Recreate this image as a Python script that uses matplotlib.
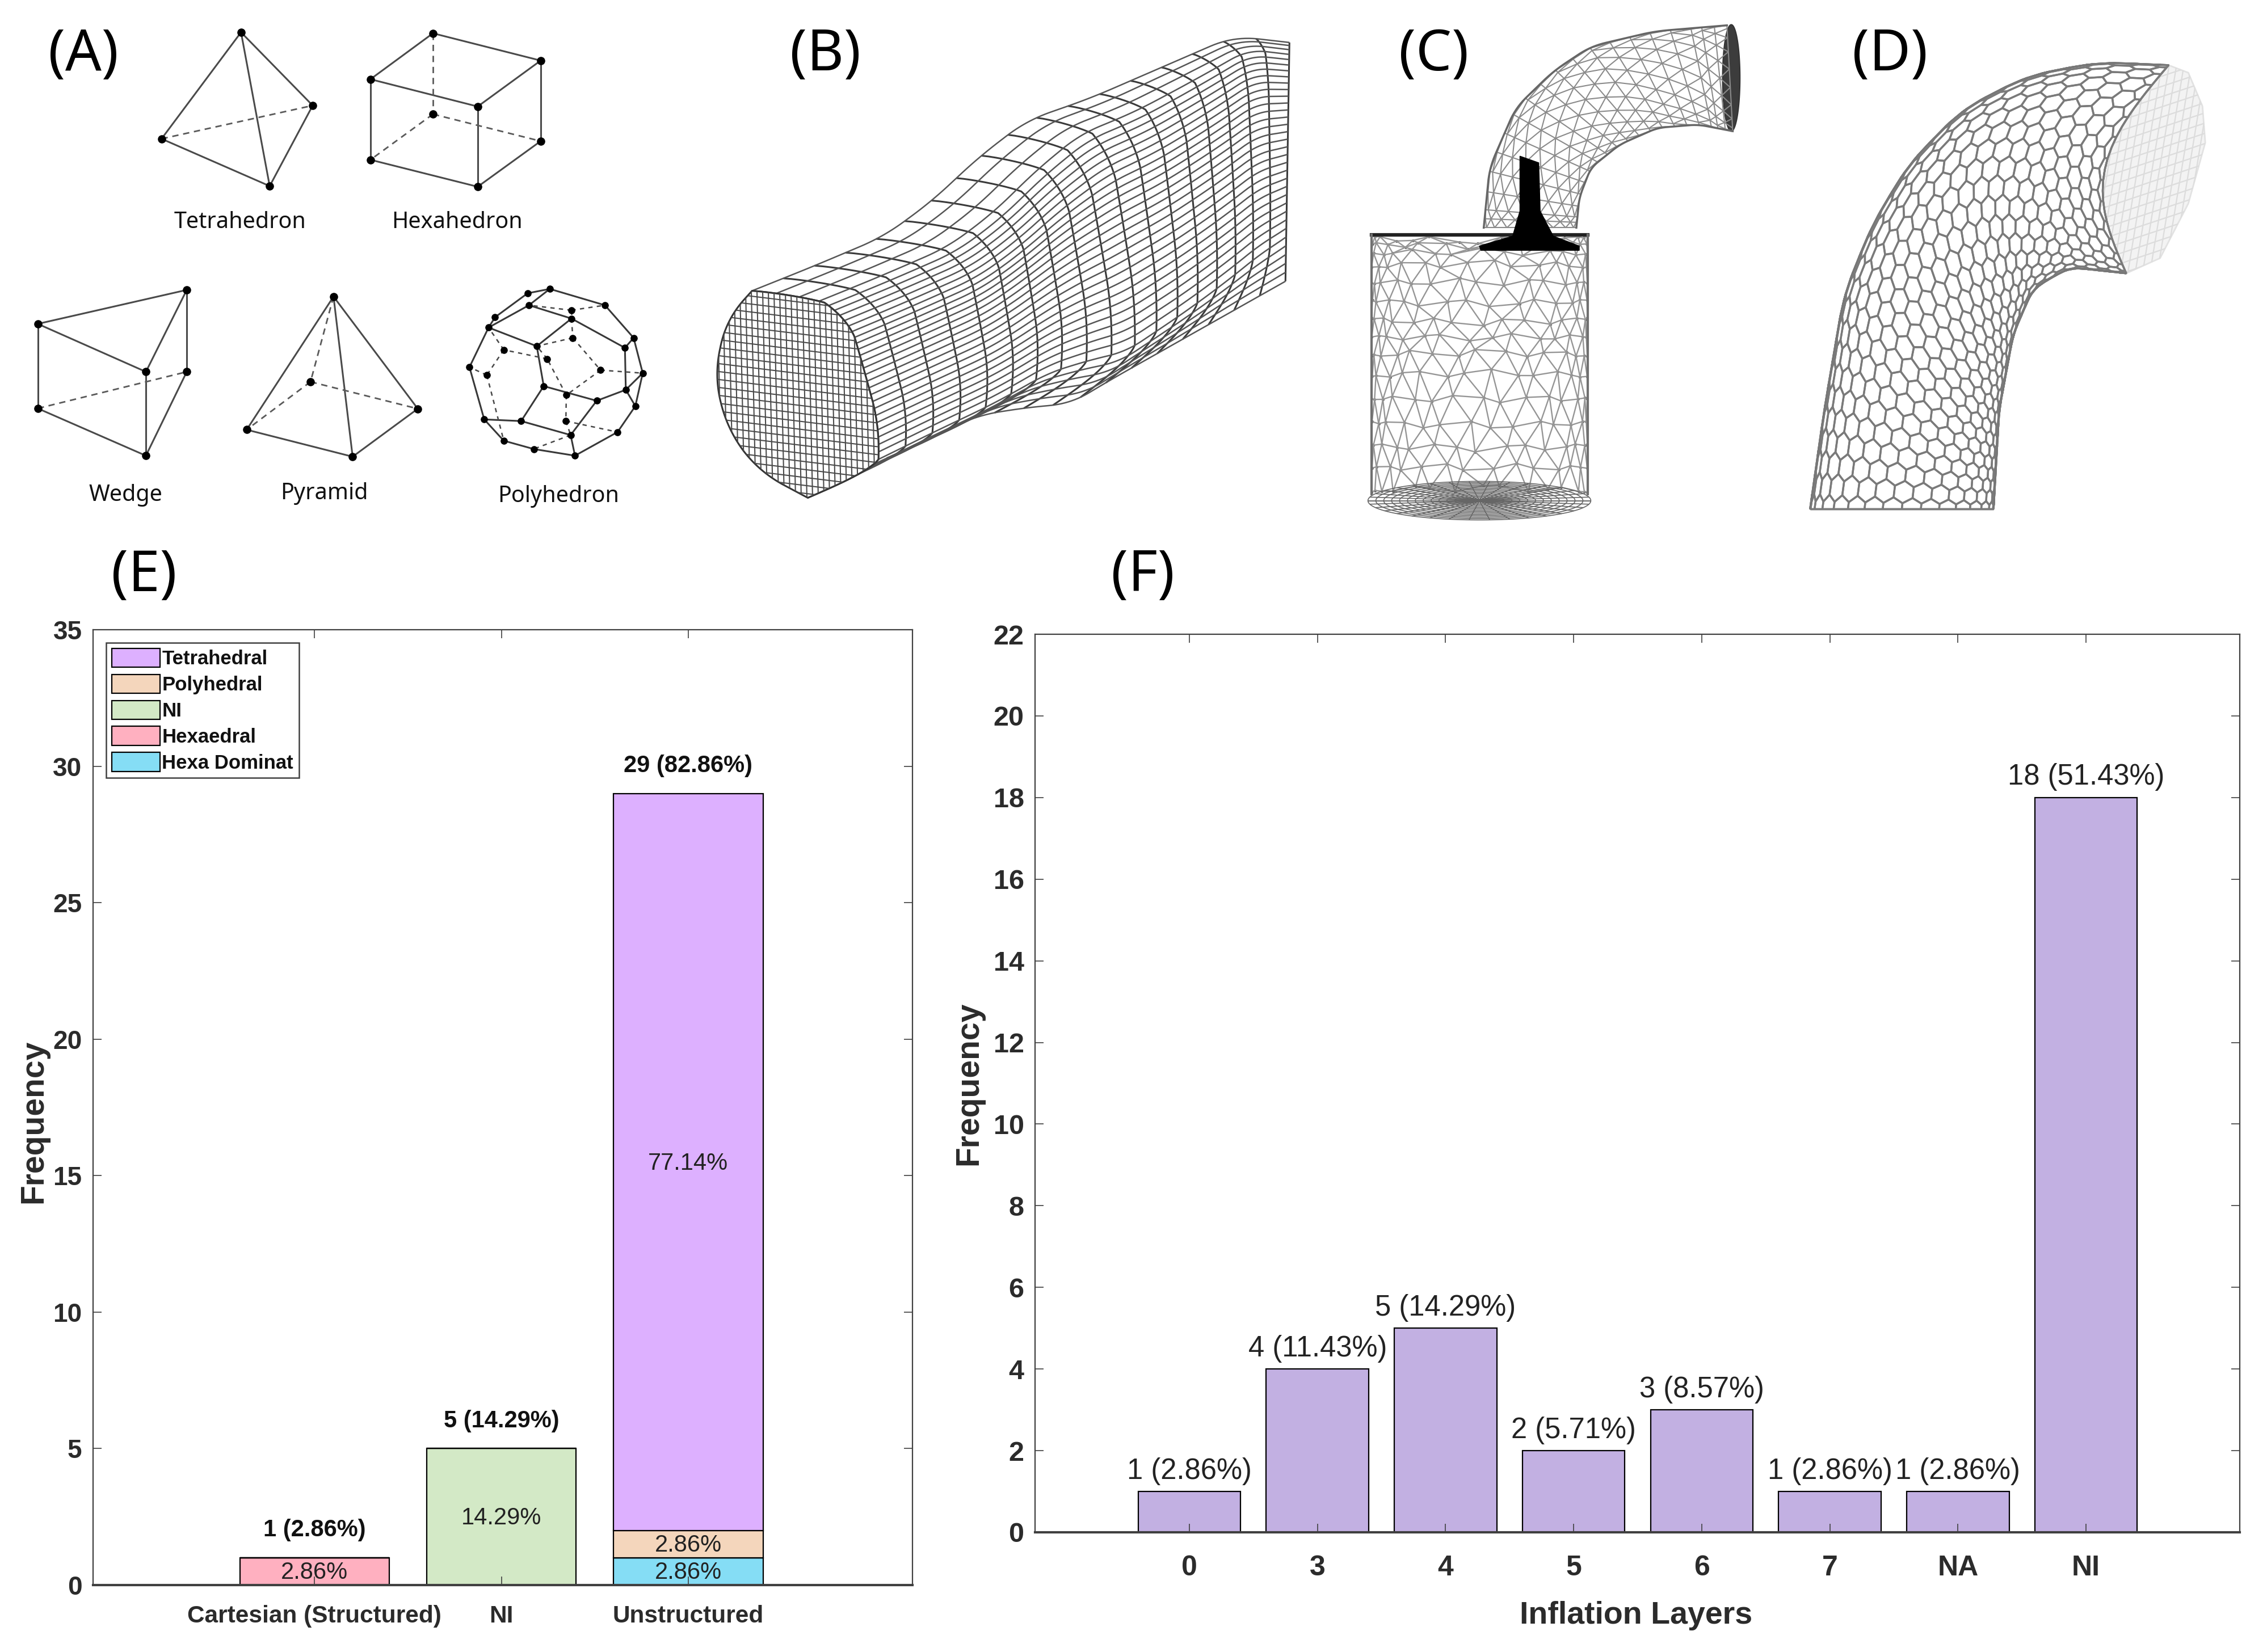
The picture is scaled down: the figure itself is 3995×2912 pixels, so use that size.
import numpy as np
import matplotlib
matplotlib.use('Agg')
import matplotlib.pyplot as plt
from matplotlib.collections import LineCollection
from matplotlib.patches import Polygon

plt.rcParams['font.family'] = ['Liberation Sans', 'DejaVu Sans']

# panel E
mesh_types = ['Cartesian (Structured)', 'NI', 'Unstructured']
hexa_dominant = [0, 0, 1]
hexaedral = [1, 0, 0]
mesh_ni = [0, 5, 0]
polyhedral = [0, 0, 1]
tetrahedral = [0, 0, 27]
mesh_totals = ['1 (2.86%)', '5 (14.29%)', '29 (82.86%)']
mesh_total_values = [1, 5, 29]

# panel F
layer_names = ['0', '3', '4', '5', '6', '7', 'NA', 'NI']
layer_counts = [1, 4, 5, 2, 3, 1, 1, 18]
layer_pct = ['2.86', '11.43', '14.29', '5.71', '8.57', '2.86', '2.86', '51.43']

tet_nodes = {'t': (555, 97), 'r': (720, 317), 'l': (372, 417), 'b': (621, 559)}
tet_solid = ['tl', 'tr', 'tb', 'lb', 'rb']
tet_dash = ['lr']
hex_nodes = {'a': (997, 100), 'b': (1245, 182), 'c': (853, 238), 'd': (1100, 320),
             'e': (997, 343), 'f': (1245, 424), 'g': (853, 480), 'h': (1100, 561)}
hex_solid = ['ab', 'ac', 'cd', 'bd', 'cg', 'dh', 'bf', 'gh', 'fh']
hex_dash = ['ae', 'eg', 'ef']
wedge_nodes = {'a': (87, 973), 'b': (430, 871), 'c': (336, 1117), 'd': (430, 1117),
               'e': (87, 1227), 'f': (336, 1369)}
wedge_solid = ['ab', 'ac', 'bc', 'bd', 'ae', 'cf', 'ef', 'df']
wedge_dash = ['ed']
pyr_nodes = {'t': (768, 891), 'e': (715, 1147), 'r': (962, 1228), 'l': (568, 1291), 'b': (812, 1372)}
pyr_solid = ['tl', 'tr', 'tb', 'lb', 'rb']
pyr_dash = ['te', 'el', 'er']
poly_nodes = [(1266, 868), (1215, 881), (1393, 917), (1218, 917), (1316, 932), (1140, 953),
              (1316, 957), (1125, 984), (1319, 1015), (1459, 1015), (1236, 1040), (1160, 1051),
              (1260, 1078), (1081, 1103), (1383, 1112), (1480, 1121), (1121, 1127), (1252, 1160),
              (1441, 1171), (1304, 1187), (1374, 1204), (1463, 1220), (1115, 1260), (1200, 1265),
              (1303, 1265), (1422, 1298), (1314, 1307), (1160, 1324), (1229, 1349), (1324, 1369),
              (1439, 1045)]
poly_solid = [(0, 1), (1, 5), (5, 7), (0, 2), (2, 9), (9, 15), (15, 21), (21, 25), (25, 29), (29, 28),
              (28, 27), (27, 22), (22, 13), (13, 7), (3, 0), (3, 7), (3, 6), (6, 10), (6, 30), (30, 9),
              (30, 18), (7, 10), (10, 17), (17, 20), (17, 23), (20, 18), (18, 21), (20, 26), (23, 26),
              (23, 22), (26, 29), (18, 15)]
poly_dash = [(4, 2), (4, 3), (4, 6), (6, 8), (8, 10), (8, 14), (14, 15), (14, 19), (19, 24), (24, 26),
             (24, 25), (26, 28), (19, 12), (12, 10), (12, 11), (11, 7), (11, 16), (16, 13), (16, 27)]

# panel B-D outlines
duct_top = [(150, 860), (300, 785), (480, 690), (600, 580), (720, 440), (840, 325), (1000, 255), (1360, 60), (1500, 80)]
duct_bot = [(290, 1510), (430, 1420), (600, 1320), (720, 1250), (850, 1225), (950, 1215), (1050, 1140), (1490, 830)]
duct_cap = [(150, 860), (85, 950), (55, 1130), (90, 1300), (170, 1430), (290, 1510)]
duct_profile_v = [0, 0.1, 0.3, 0.6, 0.85, 1]
duct_profile_b = [0, 0.55, 0.92, 1.0, 0.7, 0]
pipe_outer = [(460, 650), (480, 470), (570, 290), (700, 180), (830, 105), (1050, 60), (1300, 42)]
pipe_inner = [(780, 650), (790, 560), (830, 470), (930, 400), (1060, 350), (1200, 340), (1320, 360)]
valve = [(585, 435), (650, 455), (655, 600), (700, 675), (790, 705), (790, 718), (450, 718), (445, 705), (560, 675), (585, 600)]
bend_outer = [(80, 1525), (130, 1200), (200, 820), (300, 590), (430, 390), (620, 210), (850, 100), (1100, 55), (1350, 65)]
bend_inner = [(730, 1525), (750, 1200), (800, 950), (870, 800), (1000, 730), (1200, 750)]
bend_cap = [(1350, 65), (1420, 90), (1470, 200), (1480, 320), (1420, 520), (1320, 700), (1200, 750)]

fig = plt.figure(figsize=(39.95, 29.12), dpi=100)
bg = fig.add_axes([0, 0, 1, 1])
bg.set_xlim(0, 3995)
bg.set_ylim(2912, 0)
bg.axis('off')


def to_px(pts, x0, y0, sx, sy):
    pts = np.asarray(pts, dtype=float)
    return np.column_stack([x0 + pts[:, 0] / sx, y0 + pts[:, 1] / sy])


def sample_edge(points, n=300):
    # resample a hand read outline by arc length and take the corners off
    pts = np.asarray(points, dtype=float)
    d = np.r_[0, np.cumsum(np.hypot(*np.diff(pts, axis=0).T))]
    t = np.linspace(0, d[-1], n)
    xs, ys = np.interp(t, d, pts[:, 0]), np.interp(t, d, pts[:, 1])
    win = 25
    kernel = np.ones(win) / win
    out = []
    for a in (xs, ys):
        pad = np.r_[2 * a[0] - a[win:0:-1], a, 2 * a[-1] - a[-2:-win - 2:-1]]
        out.append(np.convolve(pad, kernel, mode='same')[win:-win])
    return np.column_stack(out)


def at(edge, u):
    t = np.asarray(u) * (len(edge) - 1)
    idx = np.arange(len(edge))
    return np.column_stack([np.interp(t, idx, edge[:, 0]), np.interp(t, idx, edge[:, 1])])


# ---- (A) ----
def zoom_a(pts):
    return to_px(pts, 0, 0, 1568 / 1200, 1568 / 920)


def wire(nodes, solid, dash):
    for pair in solid:
        seg = zoom_a([nodes[pair[0]], nodes[pair[1]]])
        bg.plot(seg[:, 0], seg[:, 1], color='#4a4a4a', lw=2.2, solid_capstyle='round')
    for pair in dash:
        seg = zoom_a([nodes[pair[0]], nodes[pair[1]]])
        bg.plot(seg[:, 0], seg[:, 1], color='#5a5a5a', lw=2.0, dashes=(4, 3))
    all_pts = zoom_a(list(nodes.values()))
    bg.scatter(all_pts[:, 0], all_pts[:, 1], s=90, color='black', zorder=3)


wire(tet_nodes, tet_solid, tet_dash)
wire(hex_nodes, hex_solid, hex_dash)
wire(wedge_nodes, wedge_solid, wedge_dash)
wire(pyr_nodes, pyr_solid, pyr_dash)
poly_dict = {i: p for i, p in enumerate(poly_nodes)}
for a, b in poly_solid:
    seg = zoom_a([poly_dict[a], poly_dict[b]])
    bg.plot(seg[:, 0], seg[:, 1], color='#383838', lw=2.2)
for a, b in poly_dash:
    seg = zoom_a([poly_dict[a], poly_dict[b]])
    bg.plot(seg[:, 0], seg[:, 1], color='#484848', lw=1.8, dashes=(3, 3))
all_poly = zoom_a(poly_nodes)
bg.scatter(all_poly[:, 0], all_poly[:, 1], s=65, color='black', zorder=3)

cap_font = dict(family='Noto Sans', fontsize=28.5, ha='center', va='center', color='#111111')
bg.text(423, 392, 'Tetrahedron', **cap_font)
bg.text(806, 392, 'Hexahedron', **cap_font)
bg.text(221, 873, 'Wedge', **cap_font)
bg.text(571, 870, 'Pyramid', **cap_font)
bg.text(984, 875, 'Polyhedron', **cap_font)

panel_font = dict(family='Noto Sans', fontsize=72, ha='center', va='center', color='black')
bg.text(147, 98, '(A)', **panel_font)
bg.text(1455, 98, '(B)', **panel_font)
bg.text(2527, 98, '(C)', **panel_font)
bg.text(3331, 98, '(D)', **panel_font)
bg.text(254, 1016, '(E)', **panel_font)
bg.text(2014, 1016, '(F)', **panel_font)


# ---- (B) duct ----
def zoom_b(pts):
    return to_px(pts, 1220, 30, 1568 / 1100, 1568 / 880)


top_e = sample_edge(zoom_b(duct_top))
bot_e = sample_edge(zoom_b(duct_bot))


def duct_point(s, v):
    s, v = np.broadcast_arrays(s, v)
    t, b = at(top_e, s.ravel()), at(bot_e, s.ravel())
    g = (v.ravel() ** 1.25)[:, None]
    p = t + (b - t) * g
    prof = np.sin(np.interp(v.ravel(), duct_profile_v, duct_profile_b) * np.pi / 2)
    p[:, 0] += 160 * (1 - s.ravel() ** 2.5) * prof
    return p


vv = np.linspace(0, 1, 100)
ss = np.linspace(0, 1, 150)
duct_lines = [duct_point(s * np.ones_like(vv), vv) for s in np.linspace(0, 1, 19)]
long_lines = [duct_point(ss, v * np.ones_like(ss)) for v in np.linspace(0, 1, 34)]
bg.add_collection(LineCollection(duct_lines, colors='#3a3a3a', linewidths=2.2))
bg.add_collection(LineCollection(long_lines, colors='#555555', linewidths=1.8))
sec0 = duct_point(np.zeros_like(vv), vv)
cap_arc = sample_edge(zoom_b(duct_cap), 120)
cap_xy = np.vstack([cap_arc, sec0[::-1]])
cap_patch = Polygon(cap_xy, closed=True, facecolor='white', edgecolor='#333333', lw=2.2, zorder=2)
bg.add_patch(cap_patch)
cx0, cx1 = cap_xy[:, 0].min(), cap_xy[:, 0].max()
cy0, cy1 = cap_xy[:, 1].min(), cap_xy[:, 1].max()
cap_grid = []
for x in np.arange(cx0, cx1, 10):
    cap_grid.append([(x, cy0), (x + 8, cy1)])
for y in np.arange(cy0 - 40, cy1 + 40, 14):
    cap_grid.append([(cx0, y), (cx1, y + 35)])
grid_lc = LineCollection(cap_grid, colors='#4a4a4a', linewidths=1.5, zorder=3)
bg.add_collection(grid_lc)
grid_lc.set_clip_path(cap_patch)


# ---- (C) tri mesh ----
def zoom_c(pts):
    return to_px(pts, 2380, 20, 1568 / 800, 1568 / 920)


def stagger_lines(rows):
    # rows is a list of node rows, every row one node shorter or longer than the next
    segs = []
    for i, row in enumerate(rows):
        segs += [[row[j], row[j + 1]] for j in range(len(row) - 1)]
        if i + 1 < len(rows):
            nxt = rows[i + 1]
            for j in range(len(row)):
                k = j * (len(nxt) - 1) / max(len(row) - 1, 1)
                for kk in {int(np.floor(k)), int(np.ceil(k))}:
                    segs.append([row[j], nxt[kk]])
    return segs


cyl_rows = []
for i, t in enumerate(np.linspace(0, 1, 15)):
    yy = 675 + 770 * t ** 1.35
    n_col = 15 if i % 2 == 0 else 14
    th = np.linspace(-np.pi / 2, np.pi / 2, n_col) if i % 2 == 0 else np.linspace(-np.pi / 2 + 0.11, np.pi / 2 - 0.11, n_col)
    # the mesh is not regular, so wobble the nodes a bit
    wob = np.cos(th) * (np.sin(np.arange(n_col) * 2.3 + i * 1.7) * 16)
    bow = 14 * np.cos(th) * np.cos(i * 1.1) + np.cos(th) * np.cos(np.arange(n_col) * 1.9 + i) * 12
    cyl_rows.append(zoom_c(np.column_stack([445 + 373 * np.sin(th) + wob, yy + bow])))
cyl_segs = stagger_lines(cyl_rows)
bg.add_collection(LineCollection(cyl_segs, colors='#959595', linewidths=1.7))
cyl_nodes = np.vstack(cyl_rows)
bg.scatter(cyl_nodes[:, 0], cyl_nodes[:, 1], s=7, color='#666666')

# cylinder floor
th = np.linspace(0, 2 * np.pi, 120)
floor_lines = []
for f in np.linspace(0.08, 1, 14):
    floor_lines.append(zoom_c(np.column_stack([445 + 385 * f * np.cos(th), 1470 + 58 * f * np.sin(th)])))
for a in np.linspace(0, np.pi, 18):
    floor_lines.append(zoom_c([(445 - 385 * np.cos(a), 1470 - 58 * np.sin(a)), (445 + 385 * np.cos(a), 1470 + 58 * np.sin(a))]))
bg.add_collection(LineCollection(floor_lines, colors='#666666', linewidths=1.2))

# bent port
pipe_o = sample_edge(zoom_c(pipe_outer))
pipe_i = sample_edge(zoom_c(pipe_inner))
pipe_rows = []
for i, u in enumerate(np.r_[np.linspace(0, 0.05, 3), np.linspace(0.1, 0.9, 15), np.linspace(0.93, 1, 3)]):
    n_col = 10 if i % 2 == 0 else 9
    v = np.linspace(0, 1, n_col) if i % 2 == 0 else np.linspace(0.06, 0.94, n_col)
    w = (1 - np.cos(np.pi * v)) / 2
    a, b = at(pipe_o, [u])[0], at(pipe_i, [u])[0]
    pipe_rows.append(a + (b - a) * w[:, None])
bg.add_collection(LineCollection(stagger_lines(pipe_rows), colors='#8a8a8a', linewidths=1.5))
bg.plot(*pipe_o.T, color='#666666', lw=2.5)
bg.plot(*pipe_i.T, color='#666666', lw=2.5)

# port outlet, valve and the head plate
end_xy = zoom_c(np.column_stack([1315 + 30 * np.cos(th), 200 + 160 * np.sin(th)]))
bg.add_patch(Polygon(end_xy, closed=True, facecolor='#3c3c3c', edgecolor='#333333', lw=1.5))
xy = zoom_c([(72, 672), (820, 672)])
bg.plot(xy[:, 0], xy[:, 1], color='#222222', lw=4.5)
bg.add_patch(Polygon(zoom_c(valve), closed=True, facecolor='black', edgecolor='black', lw=1, zorder=3))
for seg in ([(72, 672), (72, 1450)], [(820, 672), (820, 1450)]):
    xy = zoom_c(seg)
    bg.plot(xy[:, 0], xy[:, 1], color='#707070', lw=3)


# ---- (D) hex mesh ----
def zoom_d(pts):
    return to_px(pts, 3150, 80, 1568 / 780, 1568 / 840)


bend_o = sample_edge(zoom_d(bend_outer))
bend_i = sample_edge(zoom_d(bend_inner))


def bend_point(u, v):
    u = np.clip(u, 0, 1)
    v = np.clip(v, 0, 1)
    w = (1 - np.cos(np.pi * v)) / 2
    a, b = at(bend_o, [u])[0], at(bend_i, [u])[0]
    p = a + (b - a) * w
    p[0] -= 75 * np.sin(np.pi * w) * u ** 6
    return p


cap_d = np.vstack([zoom_d(bend_cap), [bend_point(1, v) for v in np.linspace(1, 0, 30)]])
cap_d_patch = Polygon(cap_d, closed=True, facecolor='#f3f3f3', edgecolor='#e2e2e2', lw=2, zorder=1)
bg.add_patch(cap_d_patch)
cx0, cx1 = cap_d[:, 0].min(), cap_d[:, 0].max()
cy0, cy1 = cap_d[:, 1].min(), cap_d[:, 1].max()
cap_mesh = [[(x, cy0), (x - 60, cy1)] for x in np.arange(cx0, cx1 + 60, 13)]
cap_mesh += [[(cx0, y), (cx1, y - 60)] for y in np.arange(cy0, cy1 + 60, 18)]
cap_lc = LineCollection(cap_mesh, colors='#dcdcdc', linewidths=1.6, zorder=1)
bg.add_collection(cap_lc)
cap_lc.set_clip_path(cap_d_patch)

n_long, n_round = 29, 15
du, dv = 1 / n_long, 1 / n_round
hex_segs = []
for i in range(-1, n_long + 2):
    for j in range(-1, n_round + 2):
        uc = i * du
        vc = (j + 0.5 * (i % 2)) * dv
        corners = [(uc - du * 0.66, vc), (uc - du * 0.33, vc + dv * 0.5), (uc + du * 0.33, vc + dv * 0.5),
                   (uc + du * 0.66, vc), (uc + du * 0.33, vc - dv * 0.5), (uc - du * 0.33, vc - dv * 0.5)]
        xy = [bend_point(c[0], c[1]) for c in corners]
        for k in range(6):
            hex_segs.append([xy[k], xy[(k + 1) % 6]])
bg.add_collection(LineCollection(hex_segs, colors='#7a7a7a', linewidths=2.4, zorder=2))
bg.plot(*bend_o.T, color='#777777', lw=2, zorder=2)
bg.plot(*bend_i.T, color='#777777', lw=2, zorder=2)

# ---- charts ----
W, H = 3995.0, 2912.0
spine_col = '#404040'
text_col = '#2b2b2b'


def chart_axes(x0, x1, y_top, y_bottom):
    ax = fig.add_axes([x0 / W, 1 - y_bottom / H, (x1 - x0) / W, (y_bottom - y_top) / H])
    for name in ax.spines:
        ax.spines[name].set_color(spine_col)
        ax.spines[name].set_linewidth(1.6)
    ax.spines['bottom'].set_linewidth(3)
    ax.tick_params(axis='both', direction='in', top=True, right=True, length=11, width=1.2, color=spine_col)
    return ax


# (E)
ax_e = chart_axes(164, 1608, 1110, 2794)
x_e = np.arange(1, 4)
stack = [('Hexa Dominat', hexa_dominant, '#85DDF5'), ('Hexaedral', hexaedral, '#FFB0C0'),
         ('NI', mesh_ni, '#D3E9C6'), ('Polyhedral', polyhedral, '#F4D6BC'),
         ('Tetrahedral', tetrahedral, '#DDB0FF')]
base = np.zeros(3)
handles = []
for name, vals, col in stack:
    vals = np.array(vals, dtype=float)
    bars = ax_e.bar(x_e, vals, 0.8, bottom=base, color=col, edgecolor='black', linewidth=1.6, label=name)
    handles.append(bars)
    for x, v, b in zip(x_e, vals, base):
        if v > 0:
            ax_e.text(x, b + v / 2 - 0.05, f'{v / 35 * 100:.2f}%', ha='center', va='center', fontsize=30, color='#222222')
    base = base + vals
for x, v, label in zip(x_e, mesh_total_values, mesh_totals):
    ax_e.text(x, v + 0.6, label, ha='center', va='bottom', fontsize=30, fontweight='bold', color='#111111')
ax_e.set_xlim(-0.185, 4.2)
ax_e.set_ylim(0, 35)
ax_e.set_yticks(np.arange(0, 36, 5))
ax_e.set_xticks(x_e)
ax_e.set_xticklabels(mesh_types)
ax_e.tick_params(axis='x', pad=25, labelsize=30.5, labelcolor=text_col)
ax_e.tick_params(axis='y', pad=14, labelsize=33, labelcolor=text_col)
for lab in ax_e.get_xticklabels() + ax_e.get_yticklabels():
    lab.set_fontweight('bold')
ax_e.set_ylabel('Frequency', fontsize=41, fontweight='bold', color=text_col, va='center')
ax_e.yaxis.set_label_coords(-0.0727, 0.485)
leg = ax_e.legend(handles[::-1], [s[0] for s in stack[::-1]], loc='upper left',
                  bbox_to_anchor=(23 / 1444, 1 - 23 / 1684), borderaxespad=0, fancybox=False,
                  edgecolor=spine_col, framealpha=1, prop={'weight': 'bold', 'size': 25},
                  handlelength=2.45, handleheight=1.1, handletextpad=0.1, labelspacing=0.3,
                  borderpad=0.28)
leg.get_frame().set_linewidth(1.8)
for t in leg.get_texts():
    t.set_color('#111111')

# (F)
ax_f = chart_axes(1824, 3947, 1118, 2701)
x_f = np.arange(1, 9)
ax_f.bar(x_f, layer_counts, 0.8, color='#C2B0E2', edgecolor='black', linewidth=1.6)
for x, v, p in zip(x_f, layer_counts, layer_pct):
    ax_f.text(x, v + 0.16, f'{v} ({p}%)', ha='center', va='bottom', fontsize=36.5, color='#222222')
ax_f.set_xlim(-0.205, 9.2)
ax_f.set_ylim(0, 22)
ax_f.set_yticks(np.arange(0, 23, 2))
ax_f.set_xticks(x_f)
ax_f.set_xticklabels(layer_names)
ax_f.tick_params(axis='x', pad=29, labelsize=36, labelcolor=text_col)
ax_f.tick_params(axis='y', pad=14, labelsize=35, labelcolor=text_col)
for lab in ax_f.get_xticklabels() + ax_f.get_yticklabels():
    lab.set_fontweight('bold')
ax_f.set_xlabel('Inflation Layers', fontsize=40, fontweight='bold', color=text_col, va='center')
ax_f.xaxis.set_label_coords(0.499, -0.093)
ax_f.set_ylabel('Frequency', fontsize=41, fontweight='bold', color=text_col, va='center')
ax_f.yaxis.set_label_coords(-0.055, 0.5)

fig.savefig('out.png', dpi=100)
